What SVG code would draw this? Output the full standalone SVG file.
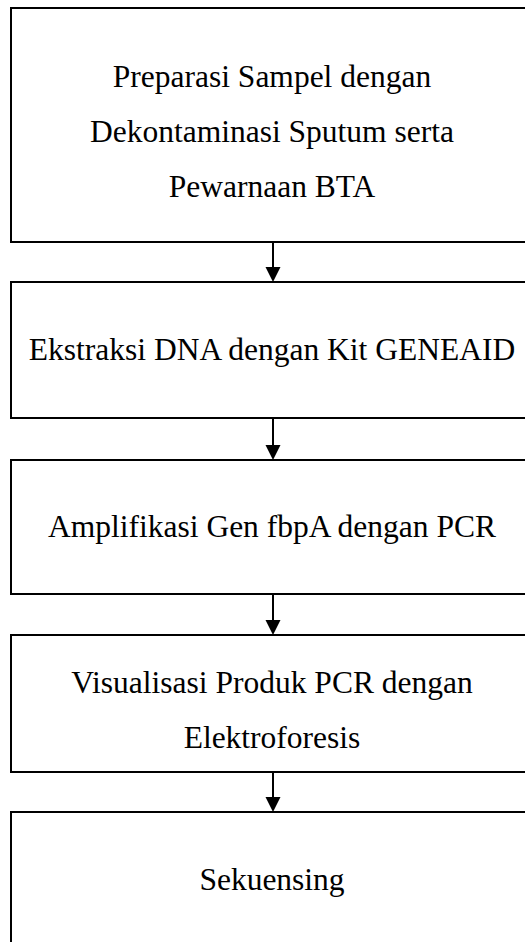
<svg xmlns="http://www.w3.org/2000/svg" width="525" height="942" viewBox="0 0 525 942">
<style>
.box{fill:#fff;stroke:#000;stroke-width:2}
.lbl{font-family:"Liberation Serif","Times New Roman",serif;font-size:31.5px;fill:#000;text-anchor:middle}
.con{stroke:#000;stroke-width:2;fill:none}
</style>
<defs>
<marker id="ah" markerUnits="userSpaceOnUse" markerWidth="16" markerHeight="16" viewBox="0 0 16 16" refX="8" refY="15" orient="auto-start-reverse">
<path d="M0.5,0 L15.5,0 L8,15 Z" fill="#000"/>
</marker>
</defs>
<g id="n1"><rect class="box" x="11" y="8" width="524" height="234"/>
<text class="lbl" x="272" y="87">Preparasi Sampel dengan</text>
<text class="lbl" x="272" y="142">Dekontaminasi Sputum serta</text>
<text class="lbl" x="272" y="197">Pewarnaan BTA</text></g>
<g id="n2"><rect class="box" x="11" y="282" width="524" height="136"/>
<text class="lbl" x="272" y="360">Ekstraksi DNA dengan Kit GENEAID</text></g>
<g id="n3"><rect class="box" x="11" y="460" width="524" height="134"/>
<text class="lbl" x="272" y="537">Amplifikasi Gen fbpA dengan PCR</text></g>
<g id="n4"><rect class="box" x="11" y="635" width="524" height="137"/>
<text class="lbl" x="272" y="693">Visualisasi Produk PCR dengan</text>
<text class="lbl" x="272" y="748">Elektroforesis</text></g>
<g id="n5"><rect class="box" x="11" y="812" width="524" height="136"/>
<text class="lbl" x="272" y="890">Sekuensing</text></g>
<g id="connectors">
<path class="con" d="M273,242 V267" />
<path d="M265.5,267 H280.5 L273,282 Z" fill="#000"/>
<path class="con" d="M273,418 V445" />
<path d="M265.5,445 H280.5 L273,460 Z" fill="#000"/>
<path class="con" d="M273,594 V620" />
<path d="M265.5,620 H280.5 L273,635 Z" fill="#000"/>
<path class="con" d="M273,772 V797" />
<path d="M265.5,797 H280.5 L273,812 Z" fill="#000"/>
</g>
</svg>
